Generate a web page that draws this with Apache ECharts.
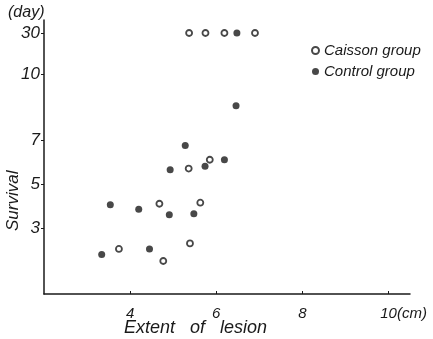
<!DOCTYPE html>
<html>
<head>
<meta charset="utf-8">
<script src="https://cdn.jsdelivr.net/npm/echarts@6/dist/echarts.min.js"></script>
<style>
  html, body { margin: 0; padding: 0; background: #fff; }
  #chart { width: 433px; height: 339px; }
</style>
</head>
<body>
<div id="chart"></div>
<script>
// extent of lesion (cm) and survival (days)
const caissonExtent   = [5.37, 5.75, 6.19, 6.90, 5.85, 5.36, 4.68, 5.63, 3.74, 5.39, 4.77];
const caissonSurvival = [30, 30, 30, 30, 6.1, 5.7, 4.1, 4.15, 2.05, 2.3, 1.5];
const controlExtent   = [6.48, 6.46, 5.28, 4.93, 5.74, 6.19, 3.54, 4.20, 4.91, 5.48, 3.34, 4.45];
const controlSurvival = [30, 8.55, 6.75, 5.65, 5.8, 6.1, 4.05, 3.85, 3.6, 3.65, 1.8, 2.05];

const xTicks = [4, 6, 8, 10];
const yTicks = [3, 5, 7, 10, 30];

// y axis is broken above 10 days: 10..30 squeezed into a short piece
function yPos(v) {
  return v <= 10 ? v : 10 + (v - 10) * 0.093;
}
function yLabel(p) {
  for (const t of yTicks) {
    if (Math.abs(yPos(t) - p) < 0.01) return String(t);
  }
  return '';
}

const font = 'Liberation Sans, Arial, sans-serif';
const ink = '#1a1a1a';

const chart = echarts.init(document.getElementById('chart'), null, { renderer: 'canvas' });

const option = {
  backgroundColor: '#fff',
  animation: false,
  grid: { left: 44, top: 20, right: 23, bottom: 45 },
  legend: {
    orient: 'vertical',
    left: 306,
    top: 38,
    itemWidth: 7,
    itemHeight: 7,
    itemGap: 6,
    textStyle: { fontFamily: font, fontStyle: 'italic', fontSize: 15, color: ink },
    data: [{ name: 'Caisson group', icon: 'circle' }, { name: 'Control group', icon: 'circle' }]
  },
  xAxis: {
    type: 'value',
    min: 2,
    max: 10.5,
    splitLine: { show: false },
    axisLine: { lineStyle: { color: ink, width: 1.5 } },
    axisTick: { customValues: xTicks, length: 3, inside: true, lineStyle: { color: ink } },
    axisLabel: {
      customValues: xTicks,
      margin: 12,
      fontFamily: font, fontStyle: 'italic', fontSize: 15, color: ink
    }
  },
  yAxis: {
    type: 'value',
    min: 0,
    max: 12.45,
    splitLine: { show: false },
    axisLine: { lineStyle: { color: ink, width: 1.5 } },
    axisTick: { customValues: yTicks.map(yPos), length: 3, lineStyle: { color: ink } },
    axisLabel: {
      customValues: yTicks.map(yPos),
      formatter: yLabel,
      margin: 4,
      fontFamily: font, fontStyle: 'italic', fontSize: 17, color: ink
    }
  },
  graphic: [
    { type: 'text', left: 8, top: 5, style: { text: '(day)', font: 'italic 16px ' + font, fill: ink } },
    { type: 'text', left: 397, top: 306, style: { text: '(cm)', font: 'italic 15px ' + font, fill: ink } },
    { type: 'text', left: 124, top: 319, style: { text: 'Extent   of   lesion', font: 'italic 18px ' + font, fill: ink } },
    { type: 'text', x: 5, y: 231, rotation: Math.PI / 2, style: { text: 'Survival', font: 'italic 17px ' + font, fill: ink } }
  ],
  series: [
    {
      name: 'Caisson group',
      type: 'scatter',
      symbol: 'circle',
      symbolSize: 6,
      itemStyle: { color: '#fff', borderColor: ink, borderWidth: 1.8 },
      data: caissonExtent.map((x, i) => [x, yPos(caissonSurvival[i])])
    },
    {
      name: 'Control group',
      type: 'scatter',
      symbol: 'circle',
      symbolSize: 7,
      itemStyle: { color: ink },
      data: controlExtent.map((x, i) => [x, yPos(controlSurvival[i])])
    }
  ]
};

chart.setOption(option);
</script>
</body>
</html>
